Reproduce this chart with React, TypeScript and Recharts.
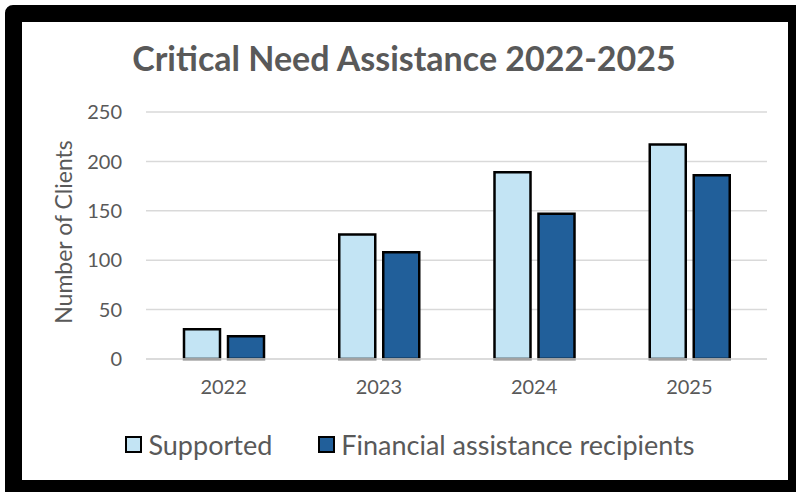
import React from "react"
import { BarChart, Bar, XAxis, YAxis, CartesianGrid, Legend, Label } from "recharts"

const years = ["2022", "2023", "2024", "2025"]
const supported = [30, 126, 189, 217]
const financialRecipients = [23, 108, 147, 186]
const yTicks = [0, 50, 100, 150, 200, 250]

const seriesNames = ["Supported", "Financial assistance recipients"]
const seriesColors = ["#C3E4F4", "#215F9A"]

const data = years.map((year, i) => ({
  year,
  supported: supported[i],
  financial: financialRecipients[i],
}))

const FONT = "Lato, 'Open Sans', sans-serif"
const TEXT = "#595959"

function LegendContent() {
  return (
    <div style={{ display: "flex", justifyContent: "center", alignItems: "center", fontFamily: FONT, color: TEXT, fontSize: 27 }}>
      {seriesNames.map((name, i) => (
        <div key={name} style={{ display: "flex", alignItems: "center", marginLeft: i === 0 ? 0 : 46 }}>
          <span
            style={{
              display: "inline-block",
              width: 13,
              height: 13,
              background: seriesColors[i],
              border: "2.5px solid #000",
              marginRight: 6,
            }}
          />
          <span>{name}</span>
        </div>
      ))}
    </div>
  )
}

export default function App() {
  return (
    <div style={{ position: "absolute", left: 0, top: 0, width: 796, height: 492, background: "#fff", overflow: "hidden" }}>
      {/* black frame round the picture */}
      <div
        style={{
          position: "absolute",
          left: 5,
          top: 5,
          width: 796 - 5,
          height: 492 - 5,
          boxSizing: "border-box",
          borderStyle: "solid",
          borderColor: "#000",
          borderWidth: "17px 8px 12px 17px",
          borderTopLeftRadius: 8,
          background: "#fff",
        }}
      />
      <div
        style={{
          position: "absolute",
          left: 0,
          width: 808,
          top: 37,
          textAlign: "center",
          fontFamily: FONT,
          fontWeight: 700,
          fontSize: 34,
          color: TEXT,
          lineHeight: "42px",
        }}
      >
        Critical Need Assistance 2022-2025
      </div>
      <div style={{ position: "absolute", left: 0, top: 0 }}>
        <BarChart
          width={796}
          height={492}
          data={data}
          margin={{ top: 112, right: 29, bottom: 103, left: 86 }}
          barSize={36}
          barGap={8}
        >
          <CartesianGrid vertical={false} stroke="#D9D9D9" strokeWidth={1.5} />
          <XAxis
            dataKey="year"
            height={30}
            axisLine={{ stroke: "#D9D9D9", strokeWidth: 1.5 }}
            tickLine={false}
            tickMargin={15}
            tick={{ fill: TEXT, fontSize: 20, fontFamily: FONT }}
          />
          <YAxis
            width={60}
            domain={[0, 250]}
            ticks={yTicks}
            axisLine={false}
            tickLine={false}
            tickMargin={18}
            tick={{ fill: TEXT, fontSize: 20, fontFamily: FONT }}
          >
            <Label
              content={() => (
                <text
                  x={63}
                  y={232}
                  transform="rotate(-90, 63, 232)"
                  textAnchor="middle"
                  dominantBaseline="central"
                  fill={TEXT}
                  fontSize={23}
                  fontFamily={FONT}
                >
                  Number of Clients
                </text>
              )}
            />
          </YAxis>
          <Legend
            layout="horizontal"
            verticalAlign="middle"
            align="center"
            content={() => <LegendContent />}
            wrapperStyle={{ position: "absolute", left: 12, top: 428, width: 796, height: 36 }}
          />
          <Bar dataKey="supported" name={seriesNames[0]} fill={seriesColors[0]} stroke="#000" strokeWidth={2.5} isAnimationActive={false} />
          <Bar dataKey="financial" name={seriesNames[1]} fill={seriesColors[1]} stroke="#000" strokeWidth={2.5} isAnimationActive={false} />
        </BarChart>
      </div>
    </div>
  )
}
